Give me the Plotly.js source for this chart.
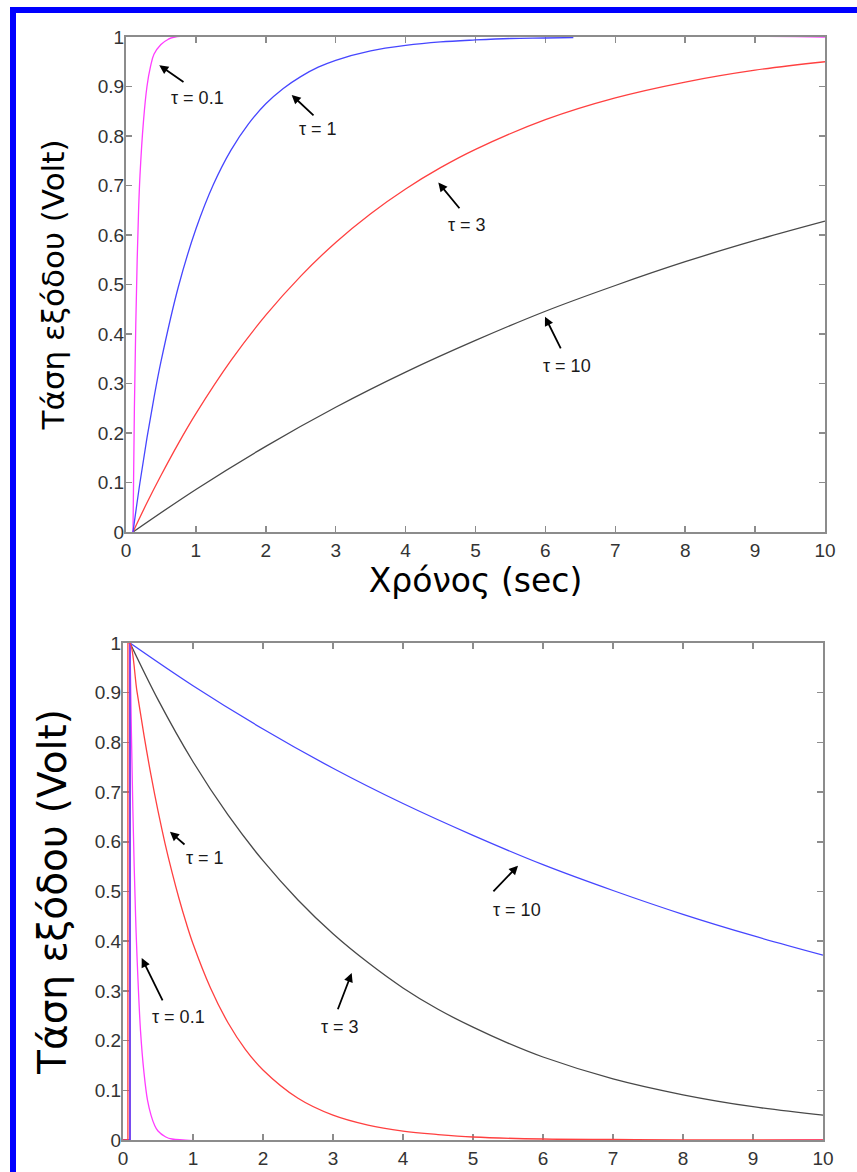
<!DOCTYPE html>
<html>
<head>
<meta charset="utf-8">
<script src="https://cdn.plot.ly/plotly-3.0.1.min.js"></script>
<style>html,body{margin:0;padding:0;background:#fff;}#chart{width:857px;height:1172px;}</style>
</head>
<body>
<div id="chart"></div>
<script>
// ---------- DATA ----------
// Top panel: charging (step response), values in Volt
const topT_tau01 = [0.1, 0.12, 0.14, 0.16, 0.18, 0.2, 0.25, 0.3, 0.35, 0.4, 0.5, 0.6, 0.7, 10];
const topV_tau01 = [0, 0.25, 0.42, 0.55, 0.65, 0.72, 0.83, 0.9, 0.94, 0.965, 0.985, 0.995, 1.0, 1.0];

const topT_tau1 = [0.1, 0.2, 0.3, 0.4, 0.5, 0.75, 1, 1.25, 1.5, 1.75, 2, 2.25, 2.5, 2.75, 3, 3.5, 4, 4.5, 5, 5.5, 6, 6.4];
const topV_tau1 = [0, 0.100, 0.190, 0.271, 0.344, 0.496, 0.612, 0.702, 0.771, 0.824, 0.865, 0.896, 0.920, 0.939, 0.953, 0.972, 0.983, 0.990, 0.994, 0.997, 0.998, 0.999];

const topT_tau3 = [0.1, 0.3, 0.5, 0.75, 1, 1.5, 2, 2.5, 3, 3.5, 4, 4.5, 5, 6, 7, 8, 9, 10];
const topV_tau3 = [0, 0.059, 0.114, 0.179, 0.239, 0.346, 0.438, 0.517, 0.585, 0.643, 0.693, 0.736, 0.773, 0.833, 0.877, 0.909, 0.933, 0.950];

const topT_tau10 = [0.1, 1, 2, 3, 4, 5, 6, 7, 8, 9, 10];
const topV_tau10 = [0, 0.086, 0.173, 0.252, 0.323, 0.387, 0.446, 0.498, 0.546, 0.589, 0.628];

// Bottom panel: discharging (first three points = the step up)
const botT_tau01 = [0, 0.1, 0.1, 0.12, 0.14, 0.16, 0.18, 0.2, 0.25, 0.3, 0.35, 0.4, 0.45, 0.5, 0.6, 0.7, 10];
const botV_tau01 = [0, 0, 1, 0.82, 0.67, 0.55, 0.45, 0.37, 0.22, 0.135, 0.08, 0.05, 0.03, 0.018, 0.007, 0.002, 0];

const botT_tau1 = [0, 0.07, 0.07, 0.1, 0.2, 0.3, 0.4, 0.5, 0.6, 0.7, 0.8, 0.9, 1, 1.25, 1.5, 1.75, 2, 2.5, 3, 3.5, 4, 4.5, 5, 6, 7, 8, 10];
const botV_tau1 = [0, 0, 1, 1, 0.902, 0.814, 0.734, 0.662, 0.597, 0.539, 0.486, 0.438, 0.395, 0.306, 0.236, 0.182, 0.141, 0.084, 0.050, 0.030, 0.018, 0.011, 0.006, 0.002, 0.001, 0.0003, 0];

const botT_tau3 = [0, 0.1, 0.1, 0.5, 1, 1.5, 2, 2.5, 3, 3.5, 4, 4.5, 5, 5.5, 6, 7, 8, 9, 10];
const botV_tau3 = [0, 0, 1, 0.886, 0.761, 0.654, 0.562, 0.483, 0.415, 0.357, 0.306, 0.263, 0.227, 0.195, 0.167, 0.123, 0.091, 0.067, 0.050];

const botT_tau10 = [0, 0.1, 0.1, 1, 2, 3, 4, 5, 6, 7, 8, 9, 10];
const botV_tau10 = [0, 0, 1, 0.914, 0.827, 0.748, 0.677, 0.613, 0.554, 0.502, 0.454, 0.411, 0.372];

// Tick labels
const xTickVals = [0, 1, 2, 3, 4, 5, 6, 7, 8, 9, 10];
const xTickText = ['0', '1', '2', '3', '4', '5', '6', '7', '8', '9', '10'];
const yTickVals = [0, 0.1, 0.2, 0.3, 0.4, 0.5, 0.6, 0.7, 0.8, 0.9, 1];
const yTickText = ['0', '0.1', '0.2', '0.3', '0.4', '0.5', '0.6', '0.7', '0.8', '0.9', '1'];

// Curve labels (τ = 0.1, 1, 3, 10): arrow head, arrow tail, text centre, in data units
const labelTexts = ['τ = 0.1', 'τ = 1', 'τ = 3', 'τ = 10'];
const topHeadT = [0.476, 2.37, 4.468, 5.994], topHeadV = [0.943, 0.883, 0.706, 0.435];
const topTailT = [0.844, 2.704, 4.788, 6.23],  topTailV = [0.907, 0.839, 0.651, 0.368];
const topTextT = [1.023, 2.74, 4.874, 6.316],  topTextV = [0.876, 0.814, 0.620, 0.335];
const botHeadT = [0.267, 0.671, 3.267, 5.643], botHeadV = [0.366, 0.620, 0.336, 0.552];
const botTailT = [0.576, 0.90, 3.061, 5.271],  botTailV = [0.278, 0.592, 0.260, 0.497];
const botTextT = [0.786, 1.171, 3.10, 5.629],  botTextV = [0.248, 0.568, 0.227, 0.463];

// ---------- STYLE ----------
const W = 857, H = 1172;
const colMag = '#ff3cff', colBlue = '#4646ff', colRed = '#ff4040', colBlack = '#484848';
const lw = 1.3;
const axisGray = '#8c8c8c';
const tickFont = {family: 'Liberation Sans, Arial, sans-serif', size: 19, color: '#333333'};
const labelFont = {family: 'Liberation Sans, Arial, sans-serif', size: 18, color: '#1a1a1a'};

function tr(x, y, color, xa, ya, shape) {
  return {x: x, y: y, type: 'scatter', mode: 'lines', xaxis: xa, yaxis: ya,
          line: {color: color, width: lw, shape: shape || 'spline', smoothing: 1}, hoverinfo: 'skip'};
}
// bottom series: step part drawn straight, decay part smooth
function stepPart(t, v, c) { return tr(t.slice(0, 3), v.slice(0, 3), c, 'x2', 'y2', 'linear'); }
function decayPart(t, v, c) { return tr(t.slice(2), v.slice(2), c, 'x2', 'y2', 'spline'); }

const data = [
  tr(topT_tau10, topV_tau10, colBlack, 'x', 'y'),
  tr(topT_tau3, topV_tau3, colRed, 'x', 'y'),
  tr(topT_tau01, topV_tau01, colMag, 'x', 'y'),
  tr(topT_tau1, topV_tau1, colBlue, 'x', 'y'),
  stepPart(botT_tau3, botV_tau3, colBlack), decayPart(botT_tau3, botV_tau3, colBlack),
  stepPart(botT_tau01, botV_tau01, colMag), decayPart(botT_tau01, botV_tau01, colMag),
  stepPart(botT_tau10, botV_tau10, colBlue), decayPart(botT_tau10, botV_tau10, colBlue),
  stepPart(botT_tau1, botV_tau1, colRed), decayPart(botT_tau1, botV_tau1, colRed)
];

function xAxis(domain, anchor, title) {
  const a = {domain: domain, anchor: anchor, range: [0, 10], tickmode: 'array',
    tickvals: xTickVals, ticktext: xTickText, ticks: 'inside', ticklen: 6, tickwidth: 1.5,
    tickcolor: axisGray, showline: true, linecolor: axisGray, linewidth: 2, mirror: 'allticks',
    showgrid: false, zeroline: false, tickfont: tickFont, fixedrange: true, layer: 'below traces'};
  if (title) a.title = {text: title, font: {family: 'DejaVu Sans, sans-serif', size: 33, color: '#000'}, standoff: 9};
  return a;
}
function yAxis(domain, anchor, title, size, standoff) {
  return {domain: domain, anchor: anchor, range: [0, 1], tickmode: 'array',
    tickvals: yTickVals, ticktext: yTickText, ticks: 'inside', ticklen: 6, tickwidth: 1.5,
    tickcolor: axisGray, showline: true, linecolor: axisGray, linewidth: 2, mirror: 'allticks',
    showgrid: false, zeroline: false, tickfont: tickFont, fixedrange: true, ticklabelstandoff: -4,
    layer: 'below traces',
    title: {text: title, font: {family: 'DejaVu Sans, sans-serif', size: size, color: '#000'}, standoff: standoff}};
}

const annotations = [];
function addLabel(xr, yr, ht, hv, tt, tv, xt, xv, txt) {
  annotations.push({xref: xr, yref: yr, axref: xr, ayref: yr, x: ht, y: hv, ax: tt, ay: tv,
    text: '', showarrow: true, arrowhead: 2, arrowsize: 1, arrowwidth: 1.8, arrowcolor: '#000'});
  annotations.push({xref: xr, yref: yr, x: xt, y: xv, text: txt, showarrow: false,
    xanchor: 'center', yanchor: 'middle', font: labelFont});
}
for (let i = 0; i < labelTexts.length; i++) {
  addLabel('x', 'y', topHeadT[i], topHeadV[i], topTailT[i], topTailV[i], topTextT[i], topTextV[i], labelTexts[i]);
  addLabel('x2', 'y2', botHeadT[i], botHeadV[i], botTailT[i], botTailV[i], botTextT[i], botTextV[i], labelTexts[i]);
}

const layout = {
  width: W, height: H, margin: {l: 0, r: 0, t: 0, b: 0},
  paper_bgcolor: '#ffffff', plot_bgcolor: '#ffffff', showlegend: false,
  xaxis: xAxis([126 / W, 825 / W], 'y', 'Χρόνος (sec)'),
  yaxis: yAxis([1 - 532 / H, 1 - 37 / H], 'x', 'Τάση εξόδου (Volt)', 31, 24),
  xaxis2: xAxis([123 / W, 823 / W], 'y2', null),
  yaxis2: yAxis([1 - 1140 / H, 1 - 643 / H], 'x2', 'Τάση εξόδου (Volt)', 39, 16),
  annotations: annotations,
  shapes: [
    {type: 'line', xref: 'paper', yref: 'paper', x0: 10 / W, x1: 1, y0: 1 - 10 / H, y1: 1 - 10 / H,
     line: {color: '#0000ff', width: 6}},
    {type: 'line', xref: 'paper', yref: 'paper', x0: 13 / W, x1: 13 / W, y0: 0, y1: 1 - 7 / H,
     line: {color: '#0000ff', width: 6}}
  ]
};

Plotly.newPlot('chart', data, layout, {displayModeBar: false, staticPlot: true});
</script>
</body>
</html>
